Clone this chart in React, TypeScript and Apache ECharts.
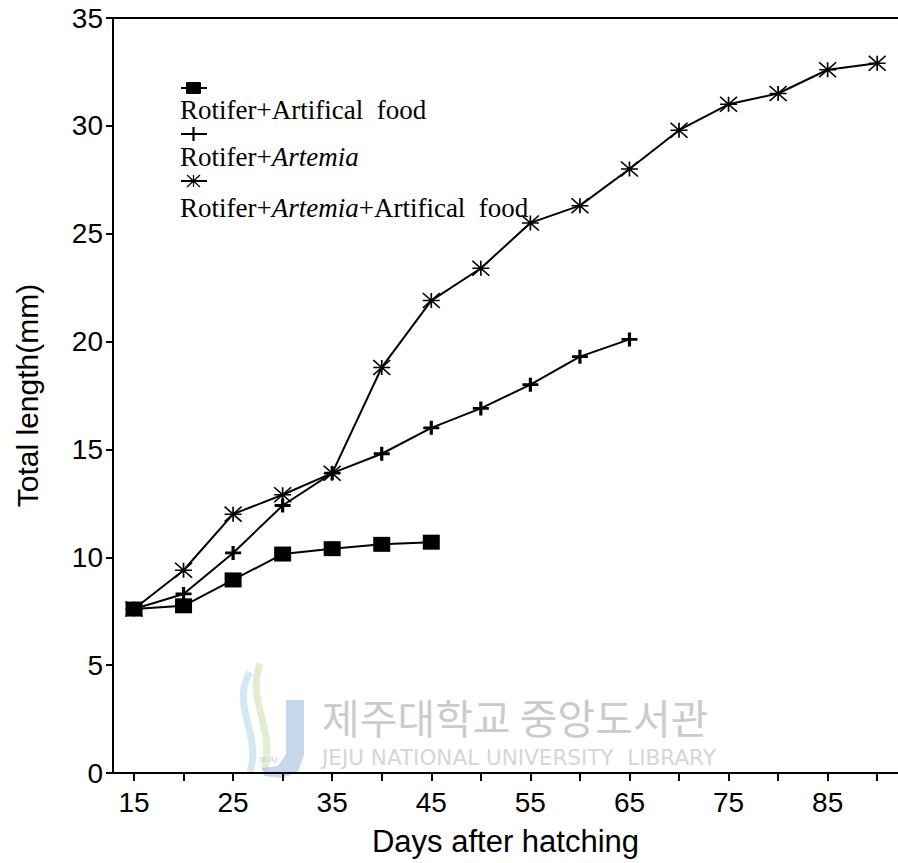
import React, { useEffect, useRef } from "react";
import * as echarts from "echarts";

// Growth of larvae (total length, mm) by feeding regime
const daysArtificial = [15, 20, 25, 30, 35, 40, 45];
const lenArtificial = [7.6, 7.75, 8.95, 10.15, 10.4, 10.6, 10.7];

const daysArtemia = [15, 20, 25, 30, 35, 40, 45, 50, 55, 60, 65];
const lenArtemia = [7.6, 8.3, 10.2, 12.4, 13.9, 14.8, 16.0, 16.9, 18.0, 19.3, 20.1];

const daysMixed = [15, 20, 25, 30, 35, 40, 45, 50, 55, 60, 65, 70, 75, 80, 85, 90];
const lenMixed = [7.6, 9.4, 12.0, 12.9, 13.9, 18.8, 21.9, 23.4, 25.5, 26.3, 28.0, 29.8, 31.0, 31.5, 32.6, 32.9];

const xTickValues = [15, 20, 25, 30, 35, 40, 45, 50, 55, 60, 65, 70, 75, 80, 85, 90];
const xLabelValues = [15, 25, 35, 45, 55, 65, 75, 85];

const legendNames = [
  ["Rotifer+", "Artifical  food"],
  ["Rotifer+", "Artemia"],
  ["Rotifer+", "Artemia", "+Artifical  food"],
];

const SANS = "'Liberation Sans', Arial, Helvetica, sans-serif";
const SERIF = "'Liberation Serif', 'Times New Roman', serif";

const plusSymbol = "path://M5,0 L5,10 M0,5 L10,5";
const starSymbol = "path://M0,0 L10,10 M10,0 L0,10 M5,0 L5,10 M0,5 L10,5";

const pair = (xs: number[], ys: number[]) => xs.map((x, i) => [x, ys[i]]);

function buildOption(): echarts.EChartsOption {
  const axisLineStyle = { color: "#000", width: 2 };
  const labelStyle = { color: "#000", fontSize: 28, fontFamily: SANS };
  const nameStyle = { color: "#000", fontSize: 30, fontFamily: SANS };

  const legendX = 180;
  const rowMarkerY = [88, 134, 181];
  const rowTextY = [110, 157, 208];

  const rich = {
    n: { fontFamily: SERIF, fontSize: 27, fill: "#000" },
    i: { fontFamily: SERIF, fontSize: 27, fontStyle: "italic", fill: "#000" },
  };

  const legendGraphics: any[] = [];
  // markers
  rowMarkerY.forEach((y) => {
    legendGraphics.push({
      type: "line",
      shape: { x1: legendX + 1, y1: y, x2: legendX + 27, y2: y },
      style: { stroke: "#000", lineWidth: 2 },
    });
  });
  legendGraphics.push({
    type: "rect",
    shape: { x: legendX + 6, y: rowMarkerY[0] - 6, width: 15, height: 12, r: 1 },
    style: { fill: "#000" },
  });
  legendGraphics.push({
    type: "line",
    shape: { x1: legendX + 13.5, y1: rowMarkerY[1] - 7, x2: legendX + 13.5, y2: rowMarkerY[1] + 7 },
    style: { stroke: "#000", lineWidth: 2.2 },
  });
  [
    [legendX + 7, rowMarkerY[2] - 6, legendX + 20, rowMarkerY[2] + 6],
    [legendX + 20, rowMarkerY[2] - 6, legendX + 7, rowMarkerY[2] + 6],
    [legendX + 13.5, rowMarkerY[2] - 6, legendX + 13.5, rowMarkerY[2] + 6],
  ].forEach(([x1, y1, x2, y2]) =>
    legendGraphics.push({
      type: "line",
      shape: { x1, y1, x2, y2 },
      style: { stroke: "#000", lineWidth: 1.2 },
    })
  );
  // labels
  const richTexts = [
    `{n|${legendNames[0][0]}}{n|${legendNames[0][1]}}`,
    `{n|${legendNames[1][0]}}{i|${legendNames[1][1]}}`,
    `{n|${legendNames[2][0]}}{i|${legendNames[2][1]}}{n|${legendNames[2][2]}}`,
  ];
  richTexts.forEach((t, k) => {
    legendGraphics.push({
      type: "text",
      x: legendX,
      y: rowTextY[k],
      style: {
        text: t,
        rich,
        fill: "#000",
        verticalAlign: "middle",
        align: "left",
      },
    });
  });

  // library watermark
  const watermark: any[] = [
    {
      type: "bezierCurve",
      shape: { x1: 250, y1: 672, cpx1: 230, cpy1: 705, cpx2: 262, cpy2: 735, x2: 250, y2: 772 },
      style: { stroke: "#a8d2ec", lineWidth: 7, opacity: 0.5, fill: null },
    },
    {
      type: "bezierCurve",
      shape: { x1: 260, y1: 664, cpx1: 246, cpy1: 700, cpx2: 276, cpy2: 730, x2: 264, y2: 770 },
      style: { stroke: "#c4dea4", lineWidth: 7, opacity: 0.5, fill: null },
    },
    {
      type: "polygon",
      shape: {
        points: [
          [286, 700], [304, 700], [304, 755], [298, 772], [282, 778],
          [264, 776], [262, 768], [278, 766], [286, 754],
        ],
      },
      style: { fill: "#8fb2dc", opacity: 0.5 },
    },
    {
      type: "text",
      x: 268,
      y: 759,
      style: { text: "JEJU", fontSize: 8, fontFamily: SANS, fill: "#c8c8c8", align: "center", verticalAlign: "middle" },
    },
    {
      type: "text",
      x: 322,
      y: 716,
      style: {
        text: "제주대학교 중앙도서관",
        fontSize: 41,
        fontFamily: "'Noto Sans CJK KR', sans-serif",
        fill: "#cbcbcb",
        verticalAlign: "middle",
        align: "left",
      },
    },
    {
      type: "text",
      x: 322,
      y: 757,
      style: {
        text: "JEJU NATIONAL UNIVERSITY  LIBRARY",
        fontSize: 21.5,
        fontFamily: "'DejaVu Sans', sans-serif",
        fill: "#d6d6d6",
        verticalAlign: "middle",
        align: "left",
      },
    },
  ];

  const lineCommon = {
    type: "line" as const,
    xAxisIndex: 0,
    yAxisIndex: 0,
    z: 3,
    lineStyle: { color: "#000", width: 2 },
  };

  return {
    animation: false,
    backgroundColor: "#fff",
    grid: { left: 113, top: 18, right: 0, bottom: 90, containLabel: false },
    xAxis: [
      {
        type: "value",
        min: 12.88,
        max: 92.1,
        position: "bottom",
        splitLine: { show: false },
        axisLine: { show: true, onZero: false, lineStyle: axisLineStyle },
        axisTick: {
          show: true,
          customValues: xTickValues,
          length: 8,
          inside: false,
          lineStyle: axisLineStyle,
        },
        axisLabel: { customValues: xLabelValues, margin: 15, ...labelStyle },
        name: "Days after hatching",
        nameLocation: "middle",
        nameGap: 53,
        nameTextStyle: { ...nameStyle, fontSize: 31 },
      } as any,
      {
        type: "value",
        min: 12.88,
        max: 92.1,
        position: "top",
        splitLine: { show: false },
        axisLine: { show: true, onZero: false, lineStyle: axisLineStyle },
        axisTick: { show: false },
        axisLabel: { show: false },
      },
    ],
    yAxis: {
      type: "value",
      min: 0,
      max: 35,
      interval: 5,
      splitLine: { show: false },
      axisLine: { show: true, onZero: false, lineStyle: axisLineStyle },
      axisTick: { show: true, length: 7, lineStyle: axisLineStyle },
      axisLabel: { margin: 10, ...labelStyle },
      name: "Total length(mm)",
      nameLocation: "middle",
      nameGap: 71,
      nameRotate: 90,
      nameTextStyle: nameStyle,
    },
    graphic: [...watermark, ...legendGraphics],
    series: [
      {
        ...lineCommon,
        name: "Rotifer+Artifical food",
        data: pair(daysArtificial, lenArtificial),
        symbol: "rect",
        symbolSize: [17, 15],
        itemStyle: { color: "#000" },
      },
      {
        ...lineCommon,
        name: "Rotifer+Artemia",
        data: pair(daysArtemia, lenArtemia),
        symbol: plusSymbol,
        symbolSize: [16, 14],
        itemStyle: { color: "#000", borderColor: "#000", borderWidth: 3 },
      },
      {
        ...lineCommon,
        name: "Rotifer+Artemia+Artifical food",
        data: pair(daysMixed, lenMixed),
        symbol: starSymbol,
        symbolSize: [17, 15],
        itemStyle: { color: "#000", borderColor: "#000", borderWidth: 1.6 },
      },
    ],
  };
}

export default function App() {
  const ref = useRef<HTMLDivElement>(null);

  useEffect(() => {
    document.body.style.margin = "0";
    if (!ref.current) return;
    const chart = echarts.init(ref.current, null, { renderer: "svg" });
    chart.setOption(buildOption());
    return () => chart.dispose();
  }, []);

  return <div ref={ref} style={{ width: 898, height: 863 }} />;
}
